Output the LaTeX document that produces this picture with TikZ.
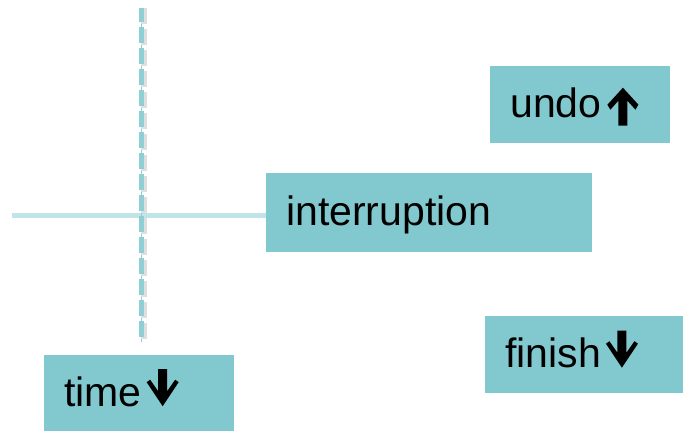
\documentclass[tikz,border=0pt]{standalone}
\usepackage{fontspec}
\setmainfont{Liberation Sans}
\usetikzlibrary{positioning}
\definecolor{boxteal}{RGB}{130,201,207}
\definecolor{dashteal}{RGB}{143,206,212}
\definecolor{paleteal}{RGB}{192,228,232}

% heavy arrows set after the words
\newcommand{\arrowup}{\tikz[baseline=8pt,x=1pt,y=1pt]
  \fill[black] (-4.5,0) -- (-4.5,25) -- (-12.5,16) -- (-15.5,21) -- (0,38)
    -- (15.5,21) -- (12.5,16) -- (4.5,25) -- (4.5,0) -- cycle;}
\newcommand{\arrowdown}{\tikz[baseline=0pt,x=1pt,y=1pt]
  \fill[black] (-4.5,37) -- (-4.5,15) -- (-12.5,26.5) -- (-16,24) -- (0,0)
    -- (16,24) -- (12.5,26.5) -- (4.5,15) -- (4.5,37) -- cycle;}

\begin{document}
\begin{tikzpicture}[x=1pt,y=-1pt,
  box/.style={fill=boxteal,anchor=north west,minimum height=77pt,
    inner xsep=20pt,inner ysep=0pt,align=left,
    text height=30pt,text depth=4pt,font=\fontsize{41}{49}\selectfont}]
  \useasboundingbox (0,0) rectangle (684,431);

  % Labels.
  \node[box,text width=140pt] (undo) at (490,66) {undo\hspace{6pt}\arrowup};
  \node[box,text width=286pt,minimum height=79pt] (interruption) at (266,173)
    {interruption};
  \node[box,text width=158pt] (finish) at (485,316) {finish\hspace{5pt}\arrowdown};
  \node[box,text width=150pt,minimum height=76pt] (time) at (44,355)
    {time\hspace{5pt}\arrowdown};

  % The cut across the time line.
  \coordinate (hstart) at (12,215.5);
  \draw[gray!35,line width=4pt,yshift=-4.5pt]
    (hstart) -- (hstart -| interruption.west);
  \draw[paleteal,line width=5pt] (hstart) -- (hstart -| interruption.west);

  % Dashed time line: thin core plus short bars, 21pt apart.
  \coordinate (vtop) at (141.7,8);
  \coordinate (vend) at (141.7,342);
  \draw[dashteal,line width=1.2pt] (vtop) -- (vend);
  \begin{scope}
    \clip (130,8) rectangle (150,342);
    \foreach \yy in {6,27,...,321}{
      \fill[gray!25] (141,\yy+2) rectangle (147,\yy+18);
      \fill[dashteal] (139.2,\yy) rectangle (144.2,\yy+16);
    }
  \end{scope}
\end{tikzpicture}
\end{document}
